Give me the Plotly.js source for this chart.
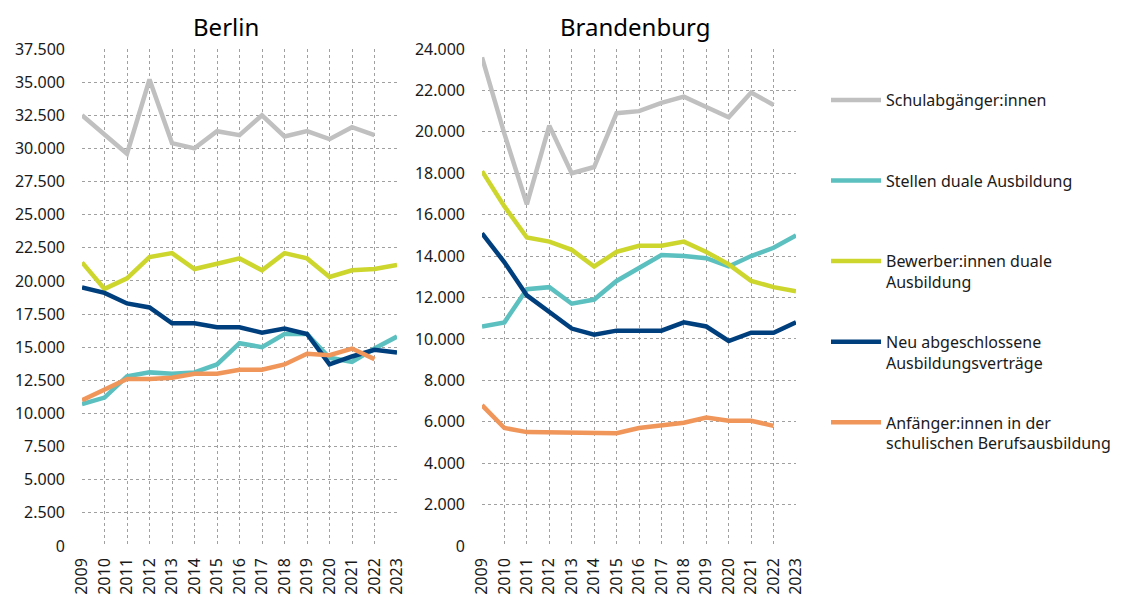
<!DOCTYPE html>
<html>
<head>
<meta charset="utf-8">
<script src="https://cdn.plot.ly/plotly-3.0.1.min.js"></script>
<style>html,body{margin:0;padding:0;background:#fff;}#chart{width:1126px;height:597px;}</style>
</head>
<body>
<div id="chart"></div>
<script>
const years = [2009,2010,2011,2012,2013,2014,2015,2016,2017,2018,2019,2020,2021,2022,2023];
const seriesNames = [
  "Schulabgänger:innen",
  "Stellen duale Ausbildung",
  "Bewerber:innen duale<br>Ausbildung",
  "Neu abgeschlossene<br>Ausbildungsverträge",
  "Anfänger:innen in der<br>schulischen Berufsausbildung"
];
const seriesColors = ["#C0C0C0","#5BC0BF","#CDD62C","#003F7D","#F0965A"];

// Berlin
const berlinSchul    = [32500,31100,29600,35200,30400,30000,31300,31000,32500,30900,31300,30700,31600,31000,null];
const berlinStellen  = [10700,11200,12800,13100,13000,13100,13700,15300,15000,16000,16000,14200,13900,14900,15800];
const berlinBewerber = [21400,19400,20200,21800,22100,20900,21300,21700,20800,22100,21700,20300,20800,20900,21200];
const berlinNeu      = [19500,19100,18300,18000,16800,16800,16500,16500,16100,16400,16000,13700,14300,14800,14600];
const berlinAnf      = [11000,11800,12600,12600,12700,13000,13000,13300,13300,13700,14500,14400,14900,14100,null];

// Brandenburg
const bbSchul    = [23600,19900,16500,20300,18000,18300,20900,21000,21400,21700,21200,20700,21900,21300,null];
const bbStellen  = [10600,10800,12400,12500,11700,11900,12800,13400,14050,14000,13900,13500,14000,14400,15000];
const bbBewerber = [18100,16400,14900,14700,14300,13500,14200,14500,14500,14700,14200,13600,12800,12500,12300];
const bbNeu      = [15100,13700,12100,11300,10500,10200,10400,10400,10400,10800,10600,9900,10300,10300,10800];
const bbAnf      = [6800,5700,5500,5500,5500,5450,5450,5700,5800,5950,6200,6050,6050,5800,null];

const berlin = [berlinSchul, berlinStellen, berlinBewerber, berlinNeu, berlinAnf];
const bb = [bbSchul, bbStellen, bbBewerber, bbNeu, bbAnf];

const FONT = "Noto Sans, sans-serif";
const PAD = "<br>\u00a0";
const traces = [];
berlin.forEach((ys,i)=>{
  traces.push({x:years,y:ys,type:"scatter",mode:"lines",name:seriesNames[i]+(seriesNames[i].includes("<br>")?"":PAD),
    line:{color:seriesColors[i],width:4.5},xaxis:"x",yaxis:"y",legendgroup:"g"+i,showlegend:true,hoverinfo:"skip"});
});
bb.forEach((ys,i)=>{
  traces.push({x:years,y:ys,type:"scatter",mode:"lines",name:seriesNames[i],
    line:{color:seriesColors[i],width:4.5},xaxis:"x2",yaxis:"y2",legendgroup:"g"+i,showlegend:false,hoverinfo:"skip"});
});

const W=1126,H=597;
const gridStyle = {showgrid:true,gridcolor:"#A0A0A0",gridwidth:1,griddash:"dot",zeroline:false,showline:false,ticks:"",
  tickfont:{family:FONT,size:16,color:"#1a1a1a"}};
const xCommon = Object.assign({}, gridStyle, {range:[2009,2023],tickmode:"linear",tick0:2009,dtick:1,tickangle:-90,ticklabelstandoff:8,fixedrange:true});
const yTop = 1-49/H, yBot = 1-546/H;

const layout = {
  width:W,height:H,
  margin:{l:0,r:0,t:0,b:0},
  paper_bgcolor:"#fff",plot_bgcolor:"#fff",
  separators:",.",
  font:{family:FONT,size:16,color:"#1a1a1a"},
  xaxis:Object.assign({},xCommon,{domain:[82/W,397/W],anchor:"y"}),
  xaxis2:Object.assign({},xCommon,{domain:[482/W,796/W],anchor:"y2"}),
  yaxis:Object.assign({},gridStyle,{domain:[yBot,yTop],range:[0,37500],dtick:2500,tick0:0,tickformat:",d",anchor:"x",ticklabelstandoff:16}),
  yaxis2:Object.assign({},gridStyle,{domain:[yBot,yTop],range:[0,24000],dtick:2000,tick0:0,tickformat:",d",anchor:"x2",ticklabelstandoff:16}),
  showlegend:true,
  legend:{x:826/W,y:1-83/H,xanchor:"left",yanchor:"top",valign:"top",tracegroupgap:36,
    font:{family:FONT,size:16,color:"#1a1a1a"},bgcolor:"rgba(0,0,0,0)",itemwidth:50,traceorder:"grouped"},
  annotations:[
    {text:"Berlin",x:226/W,y:1-27/H,xref:"paper",yref:"paper",showarrow:false,xanchor:"center",yanchor:"middle",font:{family:FONT,size:24,color:"#000"}},
    {text:"Brandenburg",x:635/W,y:1-27/H,xref:"paper",yref:"paper",showarrow:false,xanchor:"center",yanchor:"middle",font:{family:FONT,size:24,color:"#000"}}
  ]
};
Plotly.newPlot("chart",traces,layout,{staticPlot:true,displayModeBar:false});
</script>
</body>
</html>
